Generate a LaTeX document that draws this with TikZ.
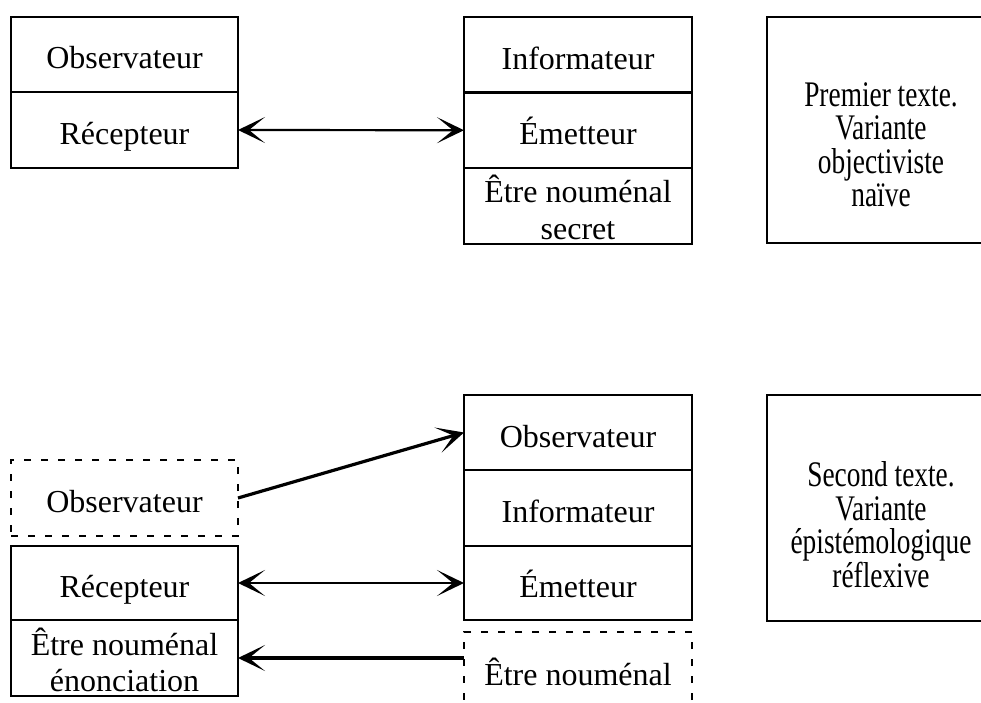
\documentclass[tikz,border=0pt]{standalone}
\usepackage{fontspec}
\setmainfont{Liberation Serif}
\newfontfamily\narrowserif[FakeStretch=0.76]{Liberation Serif}
\usetikzlibrary{arrows.meta}

\begin{document}
\begin{tikzpicture}[x=1pt, y=-1pt,
  cell/.style={draw, line width=2.2pt, rectangle, inner sep=0pt, outer sep=0pt,
    anchor=north west, align=center, minimum width=227pt,
    text height=29pt, text depth=0pt,
    font=\fontsize{32}{36}\selectfont},
  twoline/.style={text height=66pt},
  dcell/.style={cell, dash pattern=on 7pt off 10pt},
  note/.style={cell, minimum width=228pt, minimum height=226pt,
    text height=156pt, font=\narrowserif\fontsize{36}{33.5}\selectfont},
  link/.style={line width=2.2pt,
    {Stealth[length=27pt, width=26pt, inset=16pt]}-{Stealth[length=27pt, width=26pt, inset=16pt]}},
  flow/.style={line width=3.2pt, -{Stealth[length=27pt, width=26pt, inset=16pt]}}
]
\useasboundingbox (0,0) rectangle (981,703);
\clip (0,0) rectangle (981,703);

% ---- first text: naive objectivist variant ----
\node[cell, minimum height=75pt]   (tObs) at (11,17)    {Observateur};
\node[cell, minimum height=76pt]   (tRec) at (11,92)    {Récepteur};

\node[cell, minimum width=228pt, minimum height=75.5pt] (tInf) at (464,17)   {Informateur};
\node[cell, minimum width=228pt, minimum height=75.5pt] (tEm)  at (464,92.5) {Émetteur};
\node[cell, twoline, minimum width=228pt, minimum height=76pt] (tNou) at (464,168) {Être nouménal\\secret};

\node[note, text height=154pt] (tNote) at (767,17) {Premier texte.\\Variante\\objectiviste\\naïve};

\draw[link] (tRec.east) -- (tEm.west);

% ---- second text: reflexive epistemological variant ----
\node[dcell, minimum height=76pt]  (bObsD) at (11,460) {Observateur};
\node[cell, minimum height=74pt]   (bRec)  at (11,546) {Récepteur};
\node[cell, twoline, minimum height=76pt] (bEnon) at (11,620) {Être nouménal\\énonciation};

\node[cell, minimum width=228pt, minimum height=75pt] (bObs) at (464,395) {Observateur};
\node[cell, minimum width=228pt, minimum height=76pt] (bInf) at (464,470) {Informateur};
\node[cell, minimum width=228pt, minimum height=74pt] (bEm)  at (464,546) {Émetteur};
\node[dcell, minimum width=228pt, minimum height=78pt] (bNou) at (464,632) {Être nouménal};

\node[note, text height=158pt] (bNote) at (767,395) {Second texte.\\Variante\\épistémologique\\réflexive};

\draw[flow] (bObsD.east) -- (bObs.west);
\draw[link] (bRec.east) -- (bEm.west);
\coordinate (bNouIn) at (bNou.west |- bEnon.east);
\draw[flow] (bNouIn) -- (bEnon.east);
\end{tikzpicture}
\end{document}
